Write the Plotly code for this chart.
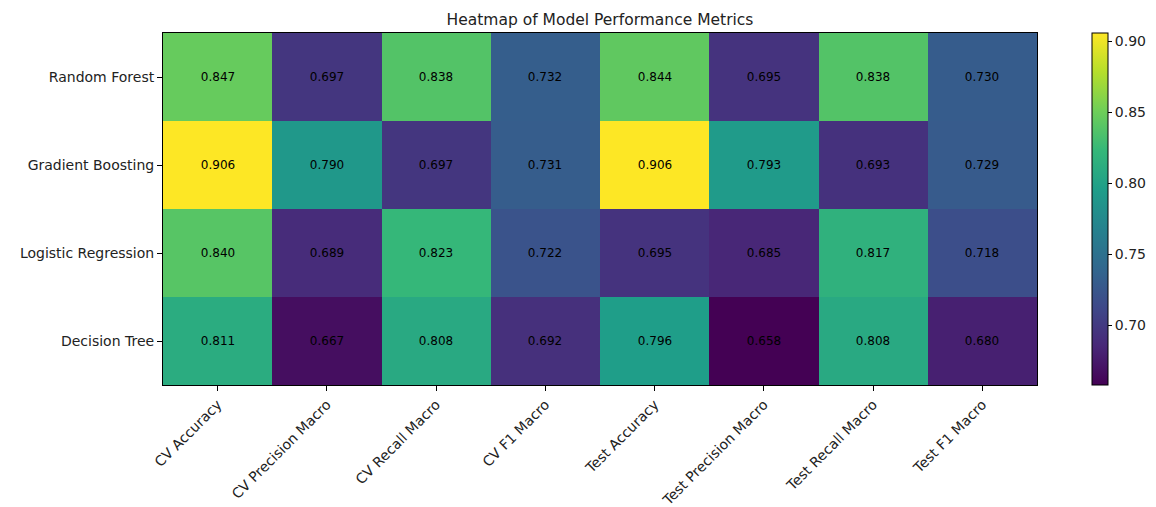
import plotly.graph_objects as go

models = ["Random Forest", "Gradient Boosting", "Logistic Regression", "Decision Tree"]
metrics = ["CV Accuracy", "CV Precision Macro", "CV Recall Macro", "CV F1 Macro",
           "Test Accuracy", "Test Precision Macro", "Test Recall Macro", "Test F1 Macro"]

random_forest = [0.847, 0.697, 0.838, 0.732, 0.844, 0.695, 0.838, 0.730]
gradient_boosting = [0.906, 0.790, 0.697, 0.731, 0.906, 0.793, 0.693, 0.729]
logistic_regression = [0.840, 0.689, 0.823, 0.722, 0.695, 0.685, 0.817, 0.718]
decision_tree = [0.811, 0.667, 0.808, 0.692, 0.796, 0.658, 0.808, 0.680]

z = [random_forest, gradient_boosting, logistic_regression, decision_tree]
text = [[f"{v:.3f}" for v in row] for row in z]

# page body has an 8px default margin, so the figure is offset by (8, 8)
W, H = 1148, 499

fig = go.Figure(go.Heatmap(
    z=z, x=metrics, y=models,
    colorscale="Viridis",
    text=text, texttemplate="%{text}",
    textfont=dict(family="DejaVu Sans", size=12, color="black"),
    xgap=0, ygap=0,
    colorbar=dict(
        x=(1092 - 163) / 874, xanchor="left", y=0.5, yanchor="middle",
        thickness=16, len=1.0, lenmode="fraction",
        xpad=0, ypad=0,
        outlinewidth=1, outlinecolor="black",
        ticks="outside", ticklen=4, tickcolor="black",
        tickvals=[0.70, 0.75, 0.80, 0.85, 0.90],
        ticktext=["0.70", "0.75", "0.80", "0.85", "0.90"],
        tickfont=dict(family="DejaVu Sans", size=14, color="#222"),
    ),
))

fig.update_layout(
    width=W, height=H,
    margin=dict(l=155, r=119, t=25, b=122, autoexpand=False),
    paper_bgcolor="white", plot_bgcolor="white",
    title=dict(text="Heatmap of Model Performance Metrics", x=(600 - 8) / W, xanchor="center",
               y=1 - 12 / H, yanchor="middle",
               font=dict(family="DejaVu Sans", size=15.5, color="#222")),
    font=dict(family="DejaVu Sans", size=14, color="#222"),
)
fig.update_xaxes(tickangle=-45, ticks="outside", ticklen=5, tickcolor="black",
                 showline=True, linecolor="black", linewidth=1, mirror=True,
                 tickfont=dict(size=14), showgrid=False, automargin=False)
fig.update_yaxes(autorange="reversed", ticks="outside", ticklen=5, tickcolor="black",
                 showline=True, linecolor="black", linewidth=1, mirror=True,
                 tickfont=dict(size=14), showgrid=False, automargin=False)

fig.write_html("out.html")
